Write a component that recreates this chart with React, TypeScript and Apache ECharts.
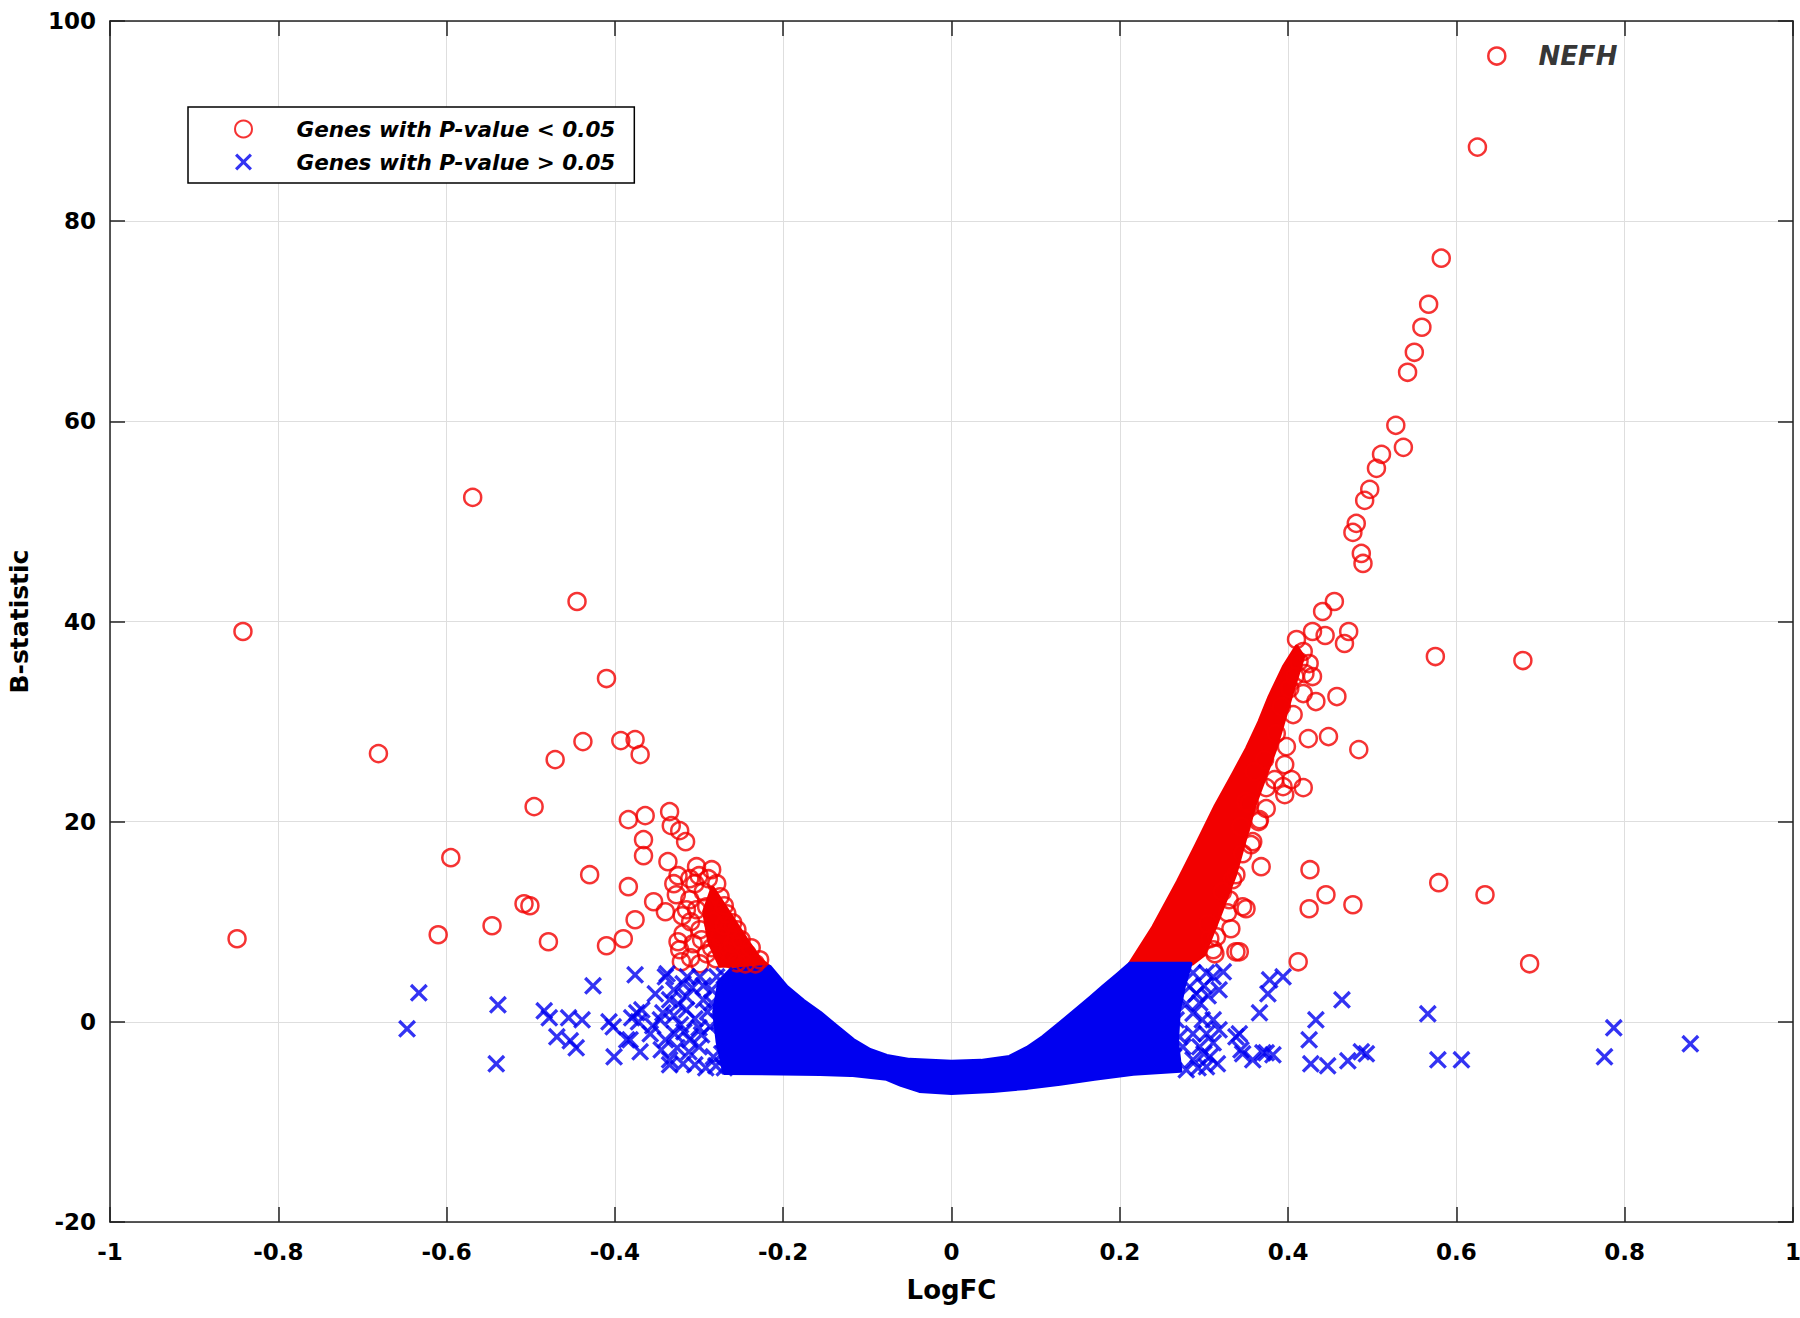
import React, { useEffect, useRef } from "react";
import * as echarts from "echarts";

// ---- data (LogFC, B-statistic) ----
const sigLabel = "Genes with P-value < 0.05";
const nonSigLabel = "Genes with P-value > 0.05";

const nefhGene: [number, number] = [0.648, 96.5];

const sigRight: [number, number][] = [
  [0.625, 87.4], [0.582, 76.3], [0.567, 71.7], [0.559, 69.4], [0.55, 66.9], [0.542, 64.9],
  [0.528, 59.6], [0.537, 57.4], [0.511, 56.7], [0.505, 55.3], [0.497, 53.2], [0.491, 52.1],
  [0.481, 49.8], [0.477, 48.9], [0.487, 46.8], [0.489, 45.8], [0.455, 42.0], [0.441, 41.0],
  [0.429, 39.0], [0.444, 38.6], [0.472, 39.0], [0.467, 37.8], [0.575, 36.5], [0.679, 36.1],
  [0.418, 37.0], [0.413, 36.0], [0.425, 35.8], [0.42, 34.8], [0.429, 34.5], [0.408, 34.5],
  [0.402, 33.3], [0.418, 32.8], [0.433, 32.0], [0.458, 32.5], [0.406, 30.7], [0.424, 28.3],
  [0.448, 28.5], [0.484, 27.2], [0.398, 27.5], [0.396, 25.7], [0.384, 24.2], [0.404, 24.2],
  [0.418, 23.4], [0.396, 22.7], [0.374, 23.4], [0.394, 23.5], [0.35, 22.0], [0.374, 21.3],
  [0.354, 21.8], [0.366, 20.2], [0.365, 20.0], [0.358, 18.0], [0.356, 17.7], [0.368, 15.5],
  [0.346, 16.8], [0.334, 14.2], [0.338, 14.7], [0.33, 12.2], [0.346, 11.5], [0.35, 11.3],
  [0.328, 10.9], [0.332, 9.3], [0.315, 8.5], [0.307, 8.3], [0.311, 7.2], [0.313, 6.8],
  [0.338, 7.0], [0.342, 7.0], [0.412, 6.0], [0.687, 5.8], [0.426, 15.2], [0.579, 13.9],
  [0.445, 12.7], [0.425, 11.3], [0.477, 11.7], [0.634, 12.7], [0.386, 28.8], [0.372, 26.2],
  [0.36, 25.0], [0.344, 19.5], [0.322, 13.0], [0.305, 9.8], [0.392, 31.5], [0.41, 38.2],
];

const sigLeft: [number, number][] = [
  [-0.842, 39.0], [-0.849, 8.3], [-0.681, 26.8], [-0.569, 52.4], [-0.445, 42.0], [-0.595, 16.4],
  [-0.61, 8.7], [-0.546, 9.6], [-0.508, 11.8], [-0.501, 11.6], [-0.479, 8.0], [-0.496, 21.5],
  [-0.471, 26.2], [-0.438, 28.0], [-0.43, 14.7], [-0.41, 34.3], [-0.393, 28.1], [-0.376, 28.2],
  [-0.37, 26.7], [-0.384, 20.2], [-0.364, 20.6], [-0.366, 18.2], [-0.366, 16.6], [-0.384, 13.5],
  [-0.376, 10.2], [-0.39, 8.3], [-0.41, 7.6], [-0.354, 12.0], [-0.335, 21.0], [-0.333, 19.6],
  [-0.323, 19.1], [-0.316, 18.0], [-0.337, 16.0], [-0.327, 12.7], [-0.311, 12.2], [-0.303, 15.5],
  [-0.289, 14.3], [-0.311, 14.3], [-0.303, 11.2], [-0.291, 11.5], [-0.275, 12.5], [-0.267, 10.8],
  [-0.319, 8.8], [-0.323, 7.2], [-0.321, 6.0], [-0.307, 7.8], [-0.299, 9.2], [-0.291, 6.8],
  [-0.299, 5.8], [-0.275, 8.5], [-0.255, 9.2], [-0.243, 6.8], [-0.228, 6.2], [-0.255, 5.9],
  [-0.283, 10.0], [-0.265, 7.0], [-0.31, 10.0], [-0.295, 13.0], [-0.28, 6.3], [-0.32, 10.6],
  [-0.305, 13.8], [-0.27, 9.6], [-0.26, 7.8], [-0.31, 6.4], [-0.325, 14.6], [-0.285, 15.2],
  [-0.325, 8.0], [-0.315, 11.2], [-0.297, 8.2], [-0.285, 7.4], [-0.27, 11.6], [-0.26, 9.9],
  [-0.25, 8.2], [-0.238, 7.4], [-0.233, 5.8], [-0.245, 5.8], [-0.262, 6.3], [-0.3, 14.6],
  [-0.279, 13.8], [-0.33, 13.8], [-0.34, 11.0],
];

const nonSigLeft: [number, number][] = [
  [-0.633, 2.9], [-0.647, -0.7], [-0.539, 1.7], [-0.541, -4.2], [-0.484, 1.1], [-0.478, 0.4],
  [-0.455, 0.4], [-0.439, 0.2], [-0.469, -1.5], [-0.453, -1.9], [-0.446, -2.6], [-0.426, 3.6],
  [-0.407, 0.0], [-0.402, -0.5], [-0.401, -3.5], [-0.376, 4.7], [-0.374, 0.9], [-0.368, 1.2],
  [-0.38, 0.4], [-0.372, 0.0], [-0.382, -1.8], [-0.37, -3.0], [-0.386, -1.8], [-0.358, -1.2],
  [-0.34, 4.5], [-0.346, 0.2], [-0.343, 0.9], [-0.335, 2.2], [-0.329, -1.2], [-0.335, -3.8],
  [-0.335, -4.3], [-0.34, -1.8], [-0.319, 3.8], [-0.315, 1.2], [-0.311, -1.8], [-0.315, 2.5],
  [-0.299, 4.5], [-0.295, 2.2], [-0.287, -0.5], [-0.283, -3.5], [-0.319, -4.2], [-0.279, 4.5],
  [-0.267, 2.8], [-0.271, -1.8], [-0.305, -4.3], [-0.338, 4.8], [-0.314, 4.5], [-0.305, 0.3],
  [-0.3, -2.5], [-0.29, 1.0], [-0.277, 0.0], [-0.28, -4.4], [-0.292, -4.6], [-0.322, -0.3],
  [-0.308, 3.4], [-0.285, 3.2], [-0.273, -3.2], [-0.325, 1.8], [-0.297, -1.3], [-0.312, -3.0],
  [-0.355, -0.4], [-0.326, -2.6], [-0.3, -0.6], [-0.285, 1.9], [-0.27, 4.6], [-0.27, -4.6],
  [-0.345, -2.8], [-0.352, 2.8], [-0.33, 3.2], [-0.318, -1.0], [-0.33, 0.6], [-0.295, 3.6],
];

const nonSigRight: [number, number][] = [
  [0.287, 4.9], [0.303, 4.9], [0.323, 5.0], [0.311, 4.5], [0.378, 4.2], [0.394, 4.5],
  [0.376, 2.8], [0.366, 0.9], [0.295, 1.9], [0.342, -1.2], [0.338, -1.5], [0.344, -2.8],
  [0.346, -3.2], [0.37, -3.1], [0.374, -3.1], [0.382, -3.3], [0.358, -3.8], [0.433, 0.2],
  [0.425, -1.8], [0.427, -4.2], [0.447, -4.4], [0.471, -3.9], [0.487, -3.0], [0.493, -3.2],
  [0.464, 2.2], [0.566, 0.8], [0.578, -3.8], [0.606, -3.8], [0.787, -0.6], [0.776, -3.5],
  [0.878, -2.2], [0.287, 0.85], [0.298, 0.2], [0.303, -1.2], [0.295, -2.5], [0.307, -3.5],
  [0.287, -3.8], [0.271, -1.5], [0.264, -3.5], [0.279, -4.8], [0.303, -4.5], [0.283, 3.5],
  [0.267, 2.5], [0.257, 0.85], [0.25, -0.5], [0.244, -2.5], [0.237, -4.2], [0.254, 3.8],
  [0.291, 2.8], [0.311, -2.1], [0.311, 0.2], [0.287, -1.2], [0.267, 0.2], [0.275, -2.5],
  [0.3, 3.6], [0.279, 1.8], [0.293, -4.6], [0.27, 4.8], [0.318, -0.8], [0.305, 2.6],
  [0.318, 3.2], [0.3, -3.2], [0.316, -4.2],
];

// envelopes of the saturated (fully overlapping) parts of the point clouds
const sigRightCore: [number, number][] = [
  [0.212, 5.8], [0.24, 9.5], [0.269, 14.0], [0.29, 17.5], [0.314, 21.6], [0.335, 24.8],
  [0.351, 27.3], [0.366, 30.0], [0.378, 32.5], [0.395, 35.5], [0.41, 37.5], [0.418, 36.5],
  [0.405, 33.0], [0.385, 27.3], [0.36, 21.6], [0.337, 14.7], [0.318, 10.5], [0.3, 6.7],
  [0.286, 5.8],
];
const sigLeftCore: [number, number][] = [
  [-0.284, 13.4], [-0.262, 10.6], [-0.242, 8.0], [-0.228, 6.3], [-0.218, 5.6],
  [-0.275, 5.6], [-0.288, 8.0], [-0.294, 11.0],
];
const nonSigCore: [number, number][] = [
  [-0.262, 5.2], [-0.216, 5.5], [-0.196, 3.5], [-0.176, 2.1], [-0.156, 0.9], [-0.136, -0.5],
  [-0.117, -1.8], [-0.097, -2.8], [-0.077, -3.4], [-0.05, -3.8], [0.0, -4.0], [0.035, -3.9],
  [0.069, -3.5], [0.09, -2.6], [0.109, -1.5], [0.128, -0.2], [0.148, 1.2], [0.165, 2.4],
  [0.18, 3.5], [0.197, 4.7], [0.212, 5.8], [0.284, 5.8], [0.276, 3.5], [0.27, 1.0],
  [0.268, -2.0], [0.272, -4.9], [0.216, -5.2], [0.17, -5.7], [0.129, -6.2], [0.09, -6.6],
  [0.049, -6.9], [0.0, -7.1], [-0.038, -6.9], [-0.06, -6.3], [-0.077, -5.7], [-0.12, -5.3],
  [-0.156, -5.2], [-0.27, -5.1], [-0.278, -2.0], [-0.282, 1.0], [-0.276, 4.0],
];

const RED = "#f20000";
const BLUE = "#0000f0";
const FONT = "DejaVu Sans";
const X_PATH =
  "path://M0,1.3L1.3,0L5,3.7L8.7,0L10,1.3L6.3,5L10,8.7L8.7,10L5,6.3L1.3,10L0,8.7L3.7,5Z";

function coreSeries(name: string, outline: [number, number][], color: string) {
  return {
    type: "custom",
    name,
    coordinateSystem: "cartesian2d",
    silent: true,
    clip: true,
    data: [[0, 0]],
    renderItem: (_p: any, api: any) => ({
      type: "polygon",
      shape: { points: outline.map((pt) => api.coord(pt)) },
      style: { fill: color, stroke: color, lineWidth: 4, lineJoin: "round" },
    }),
  };
}

export default function App() {
  const ref = useRef<HTMLDivElement>(null);
  useEffect(() => {
    if (!ref.current) return;
    const chart = echarts.init(ref.current, undefined, { renderer: "svg" });
    const tickLabel = {
      fontFamily: FONT,
      fontWeight: "bold" as const,
      fontSize: 23,
      color: "#000",
    };
    const axisLine = { show: true, onZero: false, lineStyle: { color: "#222", width: 1.5 } };
    const axisTick = { show: true, inside: true, length: 15, lineStyle: { color: "#222", width: 1.5 } };
    const fmt = (v: number) => String(Math.round(v * 10) / 10);
    chart.setOption({
      animation: false,
      backgroundColor: "#fff",
      grid: { left: 110, right: 7, top: 21, bottom: 96, outerBoundsMode: "none", containLabel: false },
      legend: {
        data: [sigLabel, nonSigLabel],
        orient: "vertical",
        left: 188,
        top: 107,
        padding: [10, 19, 9, 46],
        itemGap: 9,
        itemWidth: 96,
        itemHeight: 17,
        borderColor: "#000",
        borderWidth: 1.5,
        backgroundColor: "#fff",
        selectedMode: false,
        textStyle: {
          fontFamily: FONT,
          fontWeight: "bold",
          fontStyle: "italic",
          fontSize: 21.5,
          lineHeight: 24,
          color: "#000",
        },
      },
      xAxis: [
        {
          type: "value",
          min: -1,
          max: 1,
          interval: 0.2,
          position: "bottom",
          name: "LogFC",
          nameLocation: "middle",
          nameGap: 55,
          nameTextStyle: { fontFamily: FONT, fontWeight: "bold", fontSize: 26, color: "#000" },
          axisLine,
          axisTick,
          axisLabel: { ...tickLabel, margin: 18, formatter: fmt },
          splitLine: { show: true, lineStyle: { color: "#dedede", width: 1 } },
        },
        {
          type: "value",
          min: -1,
          max: 1,
          interval: 0.2,
          position: "top",
          axisLine,
          axisTick,
          axisLabel: { show: false },
          splitLine: { show: false },
        },
      ],
      yAxis: [
        {
          type: "value",
          min: -20,
          max: 100,
          interval: 20,
          position: "left",
          name: "B-statistic",
          nameLocation: "middle",
          nameGap: 78,
          nameTextStyle: { fontFamily: FONT, fontWeight: "bold", fontSize: 25, color: "#000" },
          axisLine,
          axisTick,
          axisLabel: { ...tickLabel, margin: 14 },
          splitLine: { show: true, lineStyle: { color: "#dedede", width: 1 } },
        },
        {
          type: "value",
          min: -20,
          max: 100,
          interval: 20,
          position: "right",
          axisLine,
          axisTick,
          axisLabel: { show: false },
          splitLine: { show: false },
        },
      ],
      series: [
        coreSeries("sigCoreRight", sigRightCore, RED),
        coreSeries("sigCoreLeft", sigLeftCore, RED),
        {
          type: "scatter",
          name: sigLabel,
          symbol: "circle",
          symbolSize: 17,
          itemStyle: { color: "rgba(0,0,0,0)", borderColor: RED, borderWidth: 2.5 },
          data: [
            {
              value: nefhGene,
              label: {
                show: true,
                formatter: "NEFH",
                position: "right",
                distance: 32,
                fontFamily: FONT,
                fontWeight: "bold",
                fontStyle: "italic",
                fontSize: 26,
                color: "#000",
              },
            },
            ...sigRight,
            ...sigLeft,
          ],
        },
        coreSeries("nonSigCore", nonSigCore, BLUE),
        {
          type: "scatter",
          name: nonSigLabel,
          symbol: X_PATH,
          symbolKeepAspect: true,
          symbolSize: 18,
          itemStyle: { color: BLUE },
          data: [...nonSigLeft, ...nonSigRight],
        },
      ],
    });
    return () => chart.dispose();
  }, []);
  return (
    <div
      ref={ref}
      style={{ position: "fixed", left: 0, top: 0, width: 1800, height: 1318, background: "#fff" }}
    />
  );
}
